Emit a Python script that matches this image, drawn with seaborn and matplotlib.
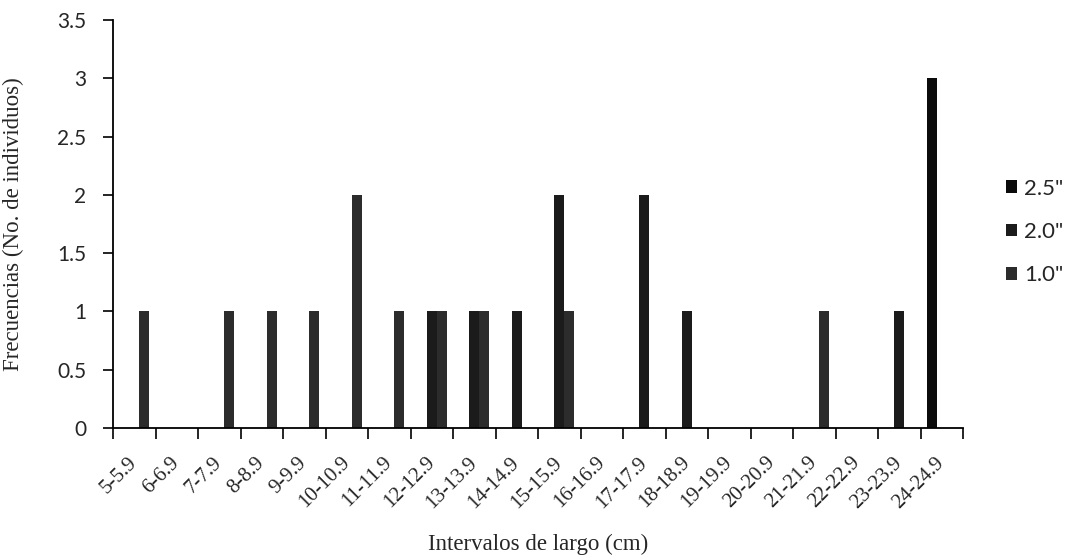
import matplotlib
matplotlib.use("Agg")
import matplotlib.pyplot as plt
from matplotlib.patches import Patch
from matplotlib.ticker import FixedLocator
import seaborn as sns
import pandas as pd
import numpy as np

categories = ["5-5.9", "6-6.9", "7-7.9", "8-8.9", "9-9.9", "10-10.9", "11-11.9",
              "12-12.9", "13-13.9", "14-14.9", "15-15.9", "16-16.9", "17-17.9",
              "18-18.9", "19-19.9", "20-20.9", "21-21.9", "22-22.9", "23-23.9",
              "24-24.9"]
series_names = ['2.5"', '2.0"', '1.0"']
vals_25 = [0, 0, 0, 0, 0, 0, 0, 0, 0, 0, 0, 0, 0, 0, 0, 0, 0, 0, 0, 3]
vals_20 = [0, 0, 0, 0, 0, 0, 0, 1, 1, 1, 2, 0, 2, 1, 0, 0, 0, 0, 1, 0]
vals_10 = [1, 0, 1, 1, 1, 2, 1, 1, 1, 0, 1, 0, 0, 0, 0, 0, 1, 0, 0, 0]
y_ticks = [0, 0.5, 1, 1.5, 2, 2.5, 3, 3.5]
y_tick_labels = ["0", "0.5", "1", "1.5", "2", "2.5", "3", "3.5"]
colors = ["#0b0b0b", "#1b1b1b", "#2c2c2c"]

rows = []
for name, vals in zip(series_names, [vals_25, vals_20, vals_10]):
    for c, v in zip(categories, vals):
        rows.append({"Intervalo": c, "Serie": name, "Frecuencia": v})
df = pd.DataFrame(rows)

sns.set_theme(style="white")
plt.rcParams["font.family"] = ["Lato", "DejaVu Sans"]
serif = ["Liberation Serif", "DejaVu Serif"]

fig = plt.figure(figsize=(10.75, 5.59), dpi=100)
ax = fig.add_axes([113/1075, 1-428/559, (963-113)/1075, (428-20)/559])

sns.barplot(data=df, x="Intervalo", y="Frecuencia", hue="Serie",
            order=categories, hue_order=series_names, palette=colors,
            width=0.71, saturation=1, legend=False, ax=ax, linewidth=0)

ax.set_xlim(-0.5, len(categories) - 0.5)
ax.set_ylim(0, 3.5)
ax.yaxis.set_major_locator(FixedLocator(y_ticks))
ax.set_yticklabels(y_tick_labels, fontsize=15)

ax.xaxis.set_major_locator(FixedLocator(np.arange(len(categories))))
ax.set_xticklabels(categories, rotation=45, ha="right", va="center",
                   rotation_mode="anchor", fontsize=15, family=serif)
ax.xaxis.set_minor_locator(FixedLocator(np.arange(len(categories) + 1) - 0.5))
ax.tick_params(axis="x", which="major", length=0, pad=23)
ax.tick_params(axis="x", which="minor", length=8, width=1.2, color="black",
               direction="out", bottom=True)
ax.tick_params(axis="y", which="major", length=7, width=1.2, color="black",
               direction="out", left=True, pad=12)

for s in ["top", "right"]:
    ax.spines[s].set_visible(False)
for s in ["left", "bottom"]:
    ax.spines[s].set_color("black")
    ax.spines[s].set_linewidth(1.3)

ax.set_xlabel("Intervalos de largo (cm)", fontsize=16.5, family=serif)
ax.set_ylabel("Frecuencias (No. de individuos)", fontsize=16.5, family=serif)
ax.xaxis.set_label_coords(0.5, -0.26)
ax.yaxis.set_label_coords(-0.105, 0.5)

handles = [Patch(facecolor=c, edgecolor="none") for c in colors]
fig.legend(handles, series_names, loc="center left",
           bbox_to_anchor=(1006/1075, 1-232/559), frameon=False,
           fontsize=16, handlelength=0.5, handleheight=0.5,
           handletextpad=0.3, labelspacing=1.05, borderpad=0, borderaxespad=0)

fig.savefig("out.png", dpi=100)
